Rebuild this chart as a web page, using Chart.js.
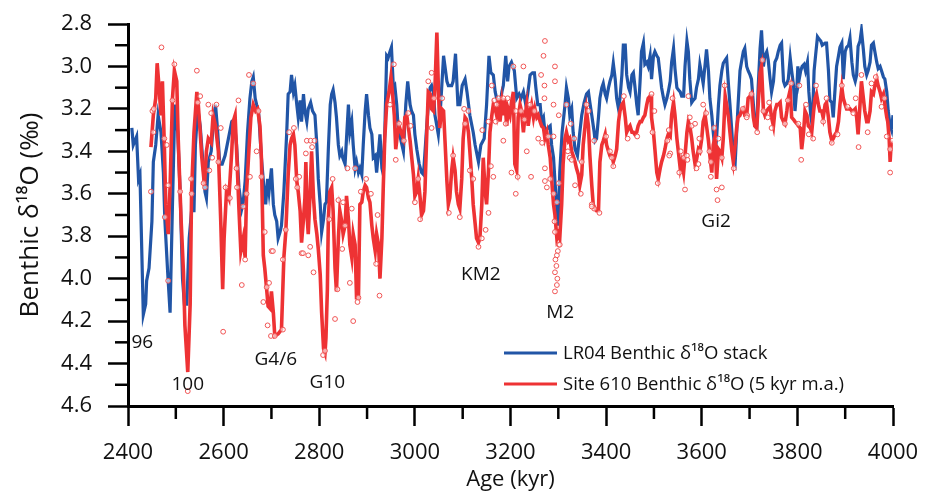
<!DOCTYPE html>
<html>
<head>
<meta charset="utf-8">
<script src="https://cdn.jsdelivr.net/npm/chart.js@4.4.0/dist/chart.umd.min.js"></script>
<style>
  html, body { margin: 0; padding: 0; background: #fff; }
  #wrap { width: 925px; height: 495px; }
</style>
</head>
<body>
<div id="wrap"><canvas id="grafico"></canvas></div>
<script>
// LR04 benthic stack, [age kyr, d18O]
var LR04 = [
  [2408,3.29],[2411,3.37],[2418,3.33],[2422,3.53],[2425,3.51],[2432,4.17],[2437,4.12],[2439,4.01],[2444,3.95],[2450,3.73],
  [2453,3.45],[2458,3.37],[2463,3.23],[2469,3.31],[2474,3.50],[2477,3.72],[2483,3.97],[2488,4.16],[2493,3.65],[2498,3.18],
  [2504,3.31],[2509,3.59],[2514,4.00],[2518,4.12],[2523,4.12],[2528,3.81],[2533,3.68],[2538,3.68],[2541,3.37],[2546,3.20],
  [2551,3.28],[2555,3.40],[2561,3.59],[2564,3.62],[2568,3.45],[2574,3.40],[2578,3.28],[2583,3.18],[2587,3.29],[2592,3.46],
  [2597,3.46],[2603,3.42],[2610,3.34],[2617,3.26],[2622,3.25],[2627,3.37],[2632,3.57],[2638,3.67],[2641,3.64],[2645,3.54],
  [2650,3.31],[2655,3.15],[2659,3.07],[2662,3.05],[2666,3.15],[2669,3.18],[2673,3.21],[2679,3.43],[2685,3.59],[2688,3.65],
  [2692,3.53],[2695,3.59],[2700,3.48],[2704,3.65],[2707,3.70],[2711,3.73],[2714,3.81],[2718,3.78],[2721,3.75],[2726,3.59],
  [2732,3.31],[2735,3.13],[2739,3.12],[2742,3.04],[2746,3.12],[2749,3.09],[2753,3.18],[2756,3.24],[2760,3.16],[2763,3.26],
  [2767,3.13],[2770,3.21],[2774,3.26],[2777,3.20],[2782,3.17],[2786,3.21],[2791,3.23],[2795,3.37],[2798,3.53],[2802,3.65],
  [2805,3.78],[2809,3.72],[2812,3.65],[2815,3.64],[2819,3.39],[2823,3.18],[2826,3.13],[2829,3.11],[2833,3.17],[2836,3.24],
  [2840,3.37],[2843,3.42],[2847,3.40],[2849,3.43],[2854,3.46],[2857,3.34],[2861,3.18],[2864,3.31],[2868,3.26],[2871,3.37],
  [2875,3.48],[2878,3.45],[2882,3.50],[2885,3.48],[2889,3.51],[2892,3.37],[2896,3.21],[2899,3.13],[2903,3.23],[2906,3.29],
  [2910,3.32],[2913,3.43],[2917,3.42],[2920,3.50],[2924,3.40],[2927,3.32],[2931,3.48],[2934,3.51],[2937,3.32],[2941,2.95],
  [2944,2.96],[2948,2.93],[2951,2.91],[2955,3.10],[2958,3.09],[2962,3.18],[2965,3.29],[2970,3.34],[2976,3.40],[2981,3.18],
  [2985,3.07],[2990,3.18],[2993,3.21],[2997,3.23],[3000,3.32],[3004,3.39],[3009,3.46],[3014,3.50],[3018,3.51],[3023,3.34],
  [3028,3.18],[3032,3.10],[3035,3.09],[3039,3.12],[3042,3.23],[3046,3.28],[3049,3.32],[3054,3.18],[3060,2.95],[3063,3.00],
  [3067,3.07],[3070,3.09],[3077,3.09],[3080,3.07],[3085,2.94],[3090,3.18],[3094,3.18],[3099,3.09],[3105,3.06],[3109,3.12],
  [3115,3.23],[3122,3.31],[3126,3.37],[3133,3.45],[3138,3.37],[3145,3.34],[3150,3.18],[3155,2.95],[3159,3.03],[3164,3.04],
  [3168,3.12],[3173,3.17],[3178,3.18],[3182,3.12],[3185,3.09],[3190,2.95],[3194,3.07],[3197,3.00],[3202,2.98],[3208,3.02],
  [3213,3.15],[3218,3.13],[3222,3.15],[3227,3.12],[3232,3.18],[3236,3.13],[3241,3.04],[3246,3.03],[3250,3.03],[3253,3.10],
  [3257,3.18],[3262,3.18],[3265,3.26],[3269,3.24],[3272,3.31],[3278,3.29],[3283,3.28],[3286,3.37],[3290,3.43],[3293,3.54],
  [3297,3.67],[3300,3.75],[3303,3.50],[3308,3.31],[3314,3.18],[3317,3.10],[3321,3.15],[3324,3.23],[3328,3.20],[3331,3.31],
  [3335,3.39],[3340,3.42],[3345,3.31],[3349,3.23],[3354,3.17],[3359,3.13],[3363,3.12],[3366,3.17],[3370,3.23],[3375,3.31],
  [3377,3.35],[3380,3.34],[3384,3.24],[3387,3.15],[3391,3.10],[3394,3.08],[3398,3.13],[3401,3.15],[3405,3.10],[3408,3.07],
  [3412,3.04],[3415,2.985],[3419,3.06],[3422,3.15],[3426,3.20],[3429,3.15],[3433,3.04],[3436,2.90],[3440,2.90],[3443,3.04],
  [3447,3.10],[3450,3.12],[3454,3.04],[3457,3.03],[3460,3.09],[3464,3.18],[3467,3.23],[3471,3.07],[3474,2.93],[3478,2.89],
  [3481,2.99],[3485,2.98],[3488,3.00],[3492,2.95],[3495,3.06],[3499,2.95],[3502,2.93],[3506,2.95],[3509,2.96],[3513,3.04],
  [3516,3.10],[3520,3.15],[3523,3.18],[3527,3.15],[3530,3.12],[3534,3.07],[3537,2.98],[3541,2.915],[3544,3.01],[3548,3.10],
  [3551,3.11],[3555,3.12],[3558,3.14],[3562,3.14],[3565,3.00],[3569,2.88],[3572,2.93],[3575,3.06],[3579,3.17],[3582,3.16],
  [3586,3.15],[3589,3.10],[3593,3.06],[3596,2.99],[3600,3.04],[3603,3.08],[3607,2.99],[3610,2.92],[3614,3.02],[3617,3.15],
  [3621,3.23],[3624,3.31],[3628,3.40],[3631,3.34],[3635,3.18],[3638,3.09],[3642,3.02],[3645,2.985],[3649,2.97],[3652,2.96],
  [3656,3.09],[3659,3.18],[3663,3.31],[3666,3.42],[3670,3.45],[3673,3.31],[3676,3.18],[3680,3.02],[3683,2.98],[3687,2.93],
  [3690,2.915],[3694,3.00],[3697,3.02],[3701,3.04],[3704,3.06],[3708,3.18],[3711,3.28],[3715,3.29],[3718,3.10],[3722,2.915],
  [3725,2.83],[3729,3.00],[3732,2.95],[3736,2.93],[3739,2.97],[3743,3.06],[3746,3.12],[3750,3.07],[3753,2.98],[3757,2.96],
  [3760,2.93],[3764,2.90],[3767,2.89],[3771,3.07],[3774,3.09],[3778,3.08],[3781,3.06],[3785,2.96],[3788,3.02],[3792,3.09],
  [3795,3.21],[3799,3.10],[3801,3.00],[3803,3.07],[3807,3.02],[3810,3.00],[3814,2.99],[3817,3.02],[3821,2.98],[3824,3.12],
  [3828,3.23],[3831,3.28],[3835,3.02],[3838,2.95],[3842,2.86],[3845,2.87],[3849,2.88],[3852,2.90],[3858,2.89],[3861,2.89],
  [3865,3.02],[3868,3.16],[3872,3.17],[3875,3.24],[3879,3.10],[3882,3.00],[3886,2.95],[3889,2.91],[3893,2.89],[3896,3.06],
  [3900,2.93],[3903,2.91],[3907,2.90],[3910,2.867],[3914,2.98],[3917,3.04],[3921,3.07],[3924,3.04],[3927,2.905],[3931,2.88],
  [3934,2.83],[3938,2.92],[3941,3.00],[3945,3.04],[3948,3.02],[3952,2.98],[3955,2.90],[3959,2.89],[3962,2.93],[3966,2.98],
  [3969,3.01],[3973,3.00],[3976,3.02],[3980,3.05],[3983,3.06],[3987,3.12],[3990,3.21],[3994,3.28],[3997,3.30],[4000,3.23]
];

// Site 610, 5 kyr moving average
var SITE610 = [
  [2448,3.38],[2453,3.23],[2458,3.15],[2461,2.985],[2465,3.10],[2469,3.23],[2472,3.07],[2476,3.37],[2479,3.65],[2484,3.79],
  [2488,3.57],[2493,3.15],[2497,3.02],[2502,3.07],[2505,3.34],[2511,3.72],[2516,3.97],[2519,4.22],[2525,4.44],[2530,4.12],
  [2533,3.59],[2538,3.31],[2544,3.12],[2547,3.18],[2551,3.31],[2554,3.42],[2560,3.56],[2564,3.40],[2568,3.34],[2574,3.36],
  [2578,3.23],[2583,3.28],[2589,3.40],[2594,3.73],[2598,4.05],[2601,3.81],[2606,3.59],[2611,3.62],[2617,3.40],[2620,3.26],
  [2624,3.23],[2627,3.39],[2632,3.67],[2636,3.87],[2641,3.81],[2645,3.90],[2648,3.59],[2653,3.39],[2657,3.24],[2662,3.18],
  [2667,3.21],[2671,3.20],[2676,3.28],[2679,3.43],[2683,3.89],[2686,3.95],[2690,4.05],[2693,4.13],[2697,4.14],[2700,4.06],
  [2704,4.16],[2707,4.27],[2714,4.26],[2721,4.24],[2726,3.90],[2730,3.78],[2735,3.51],[2739,3.37],[2742,3.34],[2746,3.32],
  [2749,3.37],[2753,3.54],[2756,3.59],[2760,3.68],[2763,3.83],[2767,3.72],[2770,3.62],[2772,3.45],[2775,3.72],[2777,3.79],
  [2781,3.59],[2784,3.40],[2788,3.62],[2791,3.72],[2795,3.79],[2798,3.86],[2802,3.98],[2805,4.16],[2809,4.33],[2812,4.35],
  [2814,4.28],[2817,4.05],[2819,3.72],[2822,3.59],[2826,3.57],[2829,3.68],[2833,3.95],[2836,4.06],[2840,3.81],[2843,3.68],
  [2847,3.73],[2850,3.79],[2854,3.75],[2857,3.61],[2861,3.72],[2864,3.84],[2868,3.90],[2871,3.79],[2875,3.84],[2878,4.09],
  [2882,4.09],[2885,3.65],[2889,3.64],[2892,3.59],[2896,3.56],[2899,3.57],[2903,3.62],[2906,3.64],[2910,3.75],[2913,3.81],
  [2917,3.87],[2920,3.79],[2924,3.84],[2927,4.00],[2931,3.81],[2934,3.56],[2937,3.34],[2941,3.18],[2946,3.12],[2950,3.05],
  [2953,3.12],[2957,3.23],[2960,3.39],[2964,3.31],[2967,3.28],[2971,3.31],[2976,3.34],[2979,3.24],[2983,3.23],[2986,3.28],
  [2990,3.35],[2993,3.42],[2997,3.51],[3000,3.61],[3004,3.59],[3007,3.53],[3011,3.62],[3014,3.70],[3018,3.68],[3021,3.59],
  [3025,3.31],[3028,3.12],[3032,3.13],[3035,3.20],[3039,3.21],[3042,3.10],[3046,2.84],[3049,3.09],[3052,3.29],[3056,3.20],
  [3060,3.21],[3063,3.35],[3067,3.54],[3070,3.65],[3073,3.62],[3077,3.49],[3080,3.43],[3084,3.49],[3087,3.59],[3091,3.65],
  [3094,3.67],[3098,3.53],[3101,3.34],[3105,3.24],[3108,3.25],[3112,3.31],[3115,3.40],[3119,3.53],[3122,3.65],[3126,3.74],
  [3129,3.81],[3133,3.83],[3136,3.81],[3140,3.65],[3143,3.43],[3147,3.59],[3150,3.65],[3154,3.49],[3157,3.31],[3161,3.23],
  [3164,3.18],[3168,3.20],[3171,3.23],[3175,3.15],[3178,3.26],[3182,3.17],[3185,3.23],[3188,3.15],[3192,3.28],[3195,3.20],
  [3199,3.23],[3202,3.17],[3206,3.12],[3209,3.46],[3213,3.49],[3216,3.24],[3220,3.18],[3223,3.21],[3227,3.31],[3230,3.24],
  [3234,3.18],[3237,3.28],[3241,3.21],[3244,3.18],[3248,3.24],[3251,3.20],[3255,3.24],[3258,3.23],[3262,3.26],[3265,3.28],
  [3269,3.29],[3272,3.34],[3276,3.31],[3279,3.37],[3283,3.43],[3286,3.53],[3290,3.65],[3293,3.70],[3297,3.81],[3300,3.79],
  [3303,3.81],[3307,3.65],[3310,3.46],[3314,3.34],[3317,3.31],[3321,3.35],[3324,3.34],[3328,3.40],[3331,3.42],[3335,3.45],
  [3338,3.48],[3342,3.51],[3345,3.56],[3349,3.51],[3352,3.37],[3356,3.28],[3359,3.21],[3363,3.28],[3366,3.42],[3370,3.56],
  [3373,3.65],[3377,3.67],[3380,3.68],[3384,3.68],[3387,3.45],[3391,3.37],[3394,3.35],[3398,3.32],[3401,3.37],[3405,3.40],
  [3408,3.42],[3412,3.42],[3415,3.45],[3419,3.42],[3422,3.39],[3426,3.26],[3429,3.21],[3433,3.18],[3436,3.17],[3440,3.24],
  [3443,3.31],[3447,3.29],[3450,3.28],[3454,3.31],[3457,3.31],[3460,3.32],[3464,3.31],[3467,3.28],[3471,3.26],[3474,3.26],
  [3478,3.24],[3481,3.23],[3485,3.18],[3488,3.15],[3492,3.14],[3494,3.14],[3495,3.24],[3499,3.31],[3502,3.39],[3506,3.50],
  [3509,3.53],[3513,3.48],[3516,3.45],[3520,3.42],[3523,3.39],[3527,3.34],[3530,3.32],[3534,3.33],[3537,3.23],[3541,3.17],
  [3544,3.23],[3548,3.34],[3551,3.40],[3555,3.48],[3558,3.45],[3562,3.50],[3565,3.42],[3569,3.31],[3572,3.26],[3575,3.28],
  [3579,3.34],[3582,3.40],[3586,3.46],[3589,3.44],[3593,3.39],[3596,3.40],[3600,3.34],[3603,3.26],[3607,3.23],[3610,3.28],
  [3614,3.35],[3617,3.42],[3621,3.50],[3624,3.37],[3628,3.33],[3631,3.53],[3635,3.39],[3638,3.40],[3642,3.43],[3645,3.34],
  [3649,3.14],[3652,3.18],[3656,3.24],[3659,3.31],[3663,3.40],[3666,3.45],[3670,3.37],[3673,3.29],[3676,3.24],[3680,3.23],
  [3683,3.21],[3687,3.20],[3690,3.23],[3694,3.23],[3697,3.15],[3701,3.14],[3704,3.13],[3708,3.24],[3711,3.28],[3715,3.29],
  [3718,3.18],[3722,3.03],[3725,3.00],[3729,3.21],[3732,3.23],[3736,3.21],[3739,3.20],[3743,3.19],[3746,3.24],[3750,3.28],
  [3753,3.21],[3757,3.18],[3760,3.18],[3764,3.17],[3767,3.24],[3771,3.26],[3774,3.27],[3778,3.21],[3781,3.15],[3785,3.11],
  [3788,3.24],[3792,3.25],[3795,3.26],[3799,3.27],[3802,3.28],[3806,3.29],[3809,3.39],[3813,3.31],[3816,3.21],[3820,3.23],
  [3823,3.28],[3827,3.29],[3830,3.31],[3834,3.21],[3837,3.15],[3840,3.13],[3844,3.18],[3847,3.21],[3851,3.21],[3854,3.24],
  [3858,3.18],[3861,3.17],[3865,3.24],[3868,3.31],[3872,3.35],[3875,3.34],[3879,3.32],[3882,3.31],[3886,3.26],[3889,3.18],
  [3893,3.10],[3896,3.15],[3900,3.18],[3903,3.20],[3907,3.20],[3910,3.20],[3914,3.21],[3917,3.21],[3921,3.20],[3924,3.24],
  [3927,3.32],[3931,3.18],[3934,3.07],[3938,3.15],[3941,3.21],[3945,3.26],[3948,3.26],[3952,3.21],[3955,3.12],[3959,3.13],
  [3962,3.09],[3966,3.06],[3969,3.09],[3973,3.12],[3976,3.15],[3980,3.13],[3983,3.18],[3987,3.24],[3989,3.26],[3992,3.34],
  [3994,3.45],[3996,3.37],[3999,3.35]
];

// Site 610 raw samples
var SITE610_RAW = [
  [2462,2.74],[2470,2.91],[2497,2.99],[2544,3.02],[2451,3.21],[2454,3.20],[2453,3.31],[2448,3.59],[2476,3.34],[2481,3.37],
  [2484,3.56],[2477,3.71],[2484,4.01],[2493,3.16],[2509,3.59],[2533,3.60],[2532,3.53],[2546,3.17],[2551,3.14],[2568,3.18],
  [2574,3.22],[2585,3.18],[2594,3.29],[2576,3.43],[2570,3.49],[2558,3.55],[2561,3.57],[2589,3.45],[2604,3.57],[2613,3.62],
  [2631,3.16],[2627,3.48],[2628,3.57],[2641,3.66],[2648,3.60],[2638,4.03],[2645,3.91],[2653,3.04],[2662,3.08],[2673,3.21],
  [2669,3.40],[2655,3.52],[2679,3.52],[2686,3.78],[2700,3.87],[2695,4.02],[2683,4.11],[2692,4.22],[2699,4.27],[2707,4.27],
  [2599,4.25],[2525,4.53],[2690,4.04],[2724,4.24],[2724,3.91],[2703,3.87],[2730,3.77],[2737,3.31],[2747,3.29],[2774,3.35],
  [2782,3.35],[2790,3.35],[2785,3.38],[2772,3.41],[2758,3.52],[2751,3.53],[2754,3.57],[2763,3.88],[2777,3.89],[2781,3.85],
  [2788,3.97],[2766,3.88],[2828,3.53],[2821,3.72],[2840,3.63],[2850,3.64],[2854,3.75],[2868,3.67],[2887,3.59],[2898,3.53],
  [2908,3.60],[2922,3.70],[2848,3.86],[2838,4.05],[2833,4.19],[2864,4.02],[2882,4.09],[2880,4.11],[2871,4.20],[2926,4.08],
  [2919,3.93],[2859,3.48],[2875,3.48],[2956,2.99],[2948,3.18],[2967,3.27],[2977,3.35],[2986,3.22],[2991,3.28],[2960,3.44],
  [3007,3.53],[3000,3.64],[3011,3.72],[3028,3.07],[3035,3.03],[3040,3.15],[3035,3.29],[3046,2.75],[2808,4.36],[2812,4.34],
  [3316,2.77],[3272,2.88],[3269,2.95],[3293,3.00],[3227,3.00],[3206,3.00],[3264,3.04],[3271,3.09],[3293,3.07],[3161,3.09],
  [3057,3.15],[3166,3.16],[3175,3.15],[3185,3.15],[3194,3.15],[3271,3.15],[3290,3.18],[3171,3.18],[3103,3.20],[3112,3.21],
  [3154,3.26],[3169,3.26],[3190,3.27],[3211,3.21],[3222,3.21],[3229,3.25],[3241,3.18],[3250,3.21],[3301,3.23],[3317,3.18],
  [3326,3.27],[3333,3.34],[3359,3.18],[3363,3.21],[3141,3.30],[3105,3.27],[3185,3.35],[3234,3.40],[3258,3.34],[3266,3.36],
  [3279,3.33],[3290,3.33],[3320,3.40],[3324,3.43],[3328,3.44],[3349,3.45],[3370,3.65],[3375,3.67],[3080,3.42],[3115,3.49],
  [3122,3.53],[3159,3.47],[3164,3.52],[3202,3.50],[3215,3.52],[3243,3.52],[3272,3.48],[3272,3.54],[3283,3.53],[3301,3.55],
  [3335,3.56],[3347,3.60],[3071,3.69],[3094,3.71],[3154,3.69],[3148,3.77],[3133,3.85],[3140,3.81],[3211,3.60],[3290,3.60],
  [3292,3.73],[3293,3.78],[3297,3.64],[3301,3.84],[3299,3.87],[3297,3.89],[3294,3.91],[3296,3.94],[3293,3.97],[3298,4.00],
  [3297,4.03],[3293,4.06],[3303,3.84],[3276,3.57],[3437,3.14],[3495,3.13],[3501,3.21],[3539,3.15],[3572,3.14],[3603,3.18],
  [3609,3.22],[3648,3.09],[3686,3.20],[3695,3.23],[3400,3.33],[3445,3.34],[3465,3.33],[3497,3.31],[3531,3.30],[3575,3.24],
  [3579,3.28],[3586,3.27],[3595,3.34],[3626,3.29],[3635,3.34],[3375,3.35],[3408,3.40],[3412,3.43],[3415,3.47],[3528,3.35],
  [3534,3.41],[3532,3.42],[3556,3.40],[3563,3.43],[3569,3.42],[3570,3.44],[3596,3.40],[3593,3.46],[3589,3.48],[3616,3.40],
  [3619,3.45],[3642,3.43],[3667,3.48],[3508,3.55],[3553,3.50],[3565,3.58],[3631,3.58],[3642,3.57],[3633,3.63],[3619,3.52],
  [3370,3.66],[3386,3.69],[3727,2.97],[3787,3.08],[3804,3.09],[3839,3.09],[3893,3.09],[3934,3.04],[3964,3.05],[3955,3.08],
  [3704,3.13],[3741,3.17],[3780,3.16],[3818,3.18],[3861,3.15],[3905,3.19],[3922,3.15],[3976,3.19],[3982,3.15],[3694,3.24],
  [3729,3.21],[3738,3.24],[3746,3.29],[3774,3.27],[3802,3.27],[3824,3.32],[3854,3.26],[3716,3.31],[3833,3.34],[3872,3.36],
  [3884,3.32],[3917,3.22],[3947,3.31],[3987,3.33],[3994,3.39],[4003,3.36],[3999,3.35],[3928,3.38],[3808,3.44],[3994,3.50]
];

// glacial stage labels, anchored at [age, d18O]
var ETIQUETAS = [
  ["96", 2430, 4.30], ["100", 2525, 4.50], ["G4/6", 2709, 4.38], ["G10", 2817, 4.49],
  ["KM2", 3138, 3.98], ["M2", 3304, 4.16], ["Gi2", 3630, 3.73]
];

var SERIES = ["LR04 Benthic δ¹⁸O stack", "Site 610 Benthic δ¹⁸O (5 kyr m.a.)"];

var AZUL = "#2155a6";
var ROJO = "#ee3234";
var FUENTE = "'Open Sans', 'Noto Sans', sans-serif";

function puntos(arr) {
  return arr.map(function (p) { return { x: p[0], y: p[1] }; });
}

var extras = {
  id: "extras",
  afterDraw: function (chart) {
    var ctx = chart.ctx;
    var xs = chart.scales.x;
    var ys = chart.scales.y;
    var area = chart.chartArea;
    ctx.save();
    // minor ticks
    ctx.strokeStyle = "#000";
    ctx.lineWidth = 2.5;
    xs.ticks.forEach(function (t) {
      if (Math.round(t.value) % 200 !== 0) {
        var px = xs.getPixelForValue(t.value);
        ctx.beginPath();
        ctx.moveTo(px, area.bottom);
        ctx.lineTo(px, area.bottom + 13);
        ctx.stroke();
      }
    });
    ys.ticks.forEach(function (t) {
      if (Math.round(t.value * 10) % 2 !== 0) {
        var py = ys.getPixelForValue(t.value);
        ctx.beginPath();
        ctx.moveTo(area.left - 13, py);
        ctx.lineTo(area.left, py);
        ctx.stroke();
      }
    });
    // stage labels
    ctx.fillStyle = "#111";
    ctx.font = "19px " + FUENTE;
    ctx.textAlign = "center";
    ctx.textBaseline = "middle";
    ETIQUETAS.forEach(function (e) {
      ctx.fillText(e[0], xs.getPixelForValue(e[1]), ys.getPixelForValue(e[2]));
    });
    // legend
    var lx = area.right - 389;
    var rows = [area.bottom - 53, area.bottom - 22];
    var cols = [AZUL, ROJO];
    ctx.textAlign = "left";
    ctx.font = "18.5px " + FUENTE;
    for (var i = 0; i < 2; i++) {
      ctx.strokeStyle = cols[i];
      ctx.lineWidth = 3.2;
      ctx.beginPath();
      ctx.moveTo(lx, rows[i]);
      ctx.lineTo(lx + 53, rows[i]);
      ctx.stroke();
      ctx.fillStyle = "#111";
      ctx.fillText(SERIES[i], lx + 59, rows[i] + 1);
    }
    ctx.restore();
  }
};

var ctx1 = document.getElementById("grafico").getContext("2d");
var grafico = new Chart(ctx1, {
  type: "line",
  data: {
    datasets: [
      {
        type: "scatter",
        label: "Site 610 raw",
        data: puntos(SITE610_RAW),
        showLine: false,
        pointStyle: "circle",
        pointRadius: 2.4,
        pointBorderWidth: 1,
        pointBorderColor: "#f05454",
        pointBackgroundColor: "rgba(255,255,255,0.6)",
        order: 0
      },
      {
        label: SERIES[1],
        data: puntos(SITE610),
        borderColor: ROJO,
        borderWidth: 3.6,
        pointRadius: 0,
        tension: 0,
        order: 1
      },
      {
        label: SERIES[0],
        data: puntos(LR04),
        borderColor: AZUL,
        borderWidth: 3.2,
        pointRadius: 0,
        tension: 0,
        order: 2
      }
    ]
  },
  options: {
    responsive: true,
    maintainAspectRatio: false,
    animation: false,
    layout: { padding: { top: 24, right: 32, left: 0, bottom: 0 } },
    plugins: {
      legend: { display: false },
      tooltip: { enabled: false }
    },
    scales: {
      x: {
        type: "linear",
        min: 2400,
        max: 4000,
        afterFit: function (s) {
          s.height = 89;
          s.paddingLeft = 0;
          s.paddingRight = 0;
        },
        border: { color: "#000", width: 3 },
        grid: {
          drawOnChartArea: false,
          tickLength: 20,
          tickWidth: 2.5,
          tickColor: function (c) { return Math.round(c.tick.value) % 200 === 0 ? "#000" : "rgba(0,0,0,0)"; }
        },
        ticks: {
          stepSize: 100,
          autoSkip: false,
          maxRotation: 0,
          padding: 14,
          color: "#111",
          font: { family: FUENTE, size: 22 },
          callback: function (v) { return Math.round(v) % 200 === 0 ? String(v) : ""; }
        },
        title: {
          display: true,
          text: "Age (kyr)",
          color: "#111",
          font: { family: FUENTE, size: 22 },
          padding: { top: 0, bottom: 2 }
        }
      },
      y: {
        type: "linear",
        reverse: true,
        min: 2.8,
        max: 4.6,
        afterFit: function (s) {
          s.width = 128;
          s.paddingTop = 0;
          s.paddingBottom = 0;
        },
        border: { color: "#000", width: 3 },
        grid: {
          drawOnChartArea: false,
          tickLength: 20,
          tickWidth: 2.5,
          tickColor: function (c) { return Math.round(c.tick.value * 10) % 2 === 0 ? "#000" : "rgba(0,0,0,0)"; }
        },
        ticks: {
          stepSize: 0.1,
          autoSkip: false,
          padding: 16,
          color: "#111",
          font: { family: FUENTE, size: 22 },
          callback: function (v) { return Math.round(v * 10) % 2 === 0 ? v.toFixed(1) : ""; }
        },
        title: {
          display: true,
          text: "Benthic δ¹⁸O (‰)",
          color: "#111",
          font: { family: FUENTE, size: 26 },
          padding: { top: 15, bottom: 0 }
        }
      }
    }
  },
  plugins: [extras]
});
</script>
</body>
</html>
